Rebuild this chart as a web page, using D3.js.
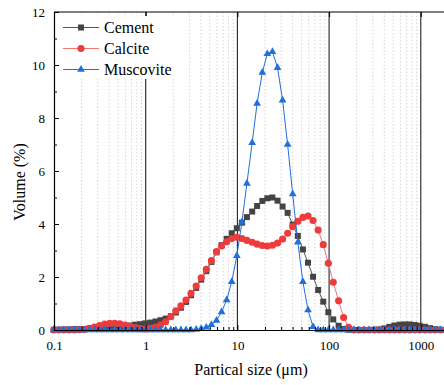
<!DOCTYPE html>
<html>
<head>
<meta charset="utf-8">
<script src="https://cdn.jsdelivr.net/npm/d3@7"></script>
<style>
  html, body { margin: 0; padding: 0; background: #fff; }
  svg { display: block; }
</style>
</head>
<body>
<svg id="chart" width="444" height="385"></svg>
<script>
// Particle size distribution: cement, calcite, muscovite (laser diffraction size classes).

const SIZES = [0.0995, 0.113, 0.128, 0.146, 0.166, 0.188, 0.214, 0.243, 0.276, 0.314,
  0.357, 0.405, 0.46, 0.523, 0.594, 0.675, 0.767, 0.872, 0.991, 1.13,
  1.28, 1.45, 1.65, 1.88, 2.13, 2.42, 2.75, 3.12, 3.55, 4.03,
  4.58, 5.21, 5.92, 6.72, 7.64, 8.68, 9.86, 11.2, 12.7, 14.5,
  16.4, 18.7, 21.2, 24.1, 27.4, 31.1, 35.3, 40.1, 45.6, 51.8,
  58.9, 66.9, 76.0, 86.4, 98.1, 111, 127, 144, 163, 186,
  211, 240, 272, 310, 352, 400, 454, 516, 586, 666,
  756, 859, 976, 1110, 1260, 1430, 1630, 1850];

const CEMENT = [0.01, 0.01, 0.02, 0.02, 0.03, 0.03, 0.04, 0.05, 0.06, 0.07,
  0.08, 0.1, 0.11, 0.12, 0.15, 0.17, 0.2, 0.22, 0.25, 0.28,
  0.32, 0.37, 0.43, 0.52, 0.66, 0.84, 1.06, 1.31, 1.59, 1.9,
  2.22, 2.57, 2.93, 3.2, 3.44, 3.65, 3.84, 4.05, 4.26, 4.47,
  4.68, 4.87, 4.97, 5.0, 4.88, 4.66, 4.42, 3.98, 3.55, 3.04,
  2.54, 2.01, 1.51, 1.07, 0.67, 0.4, 0.16, 0.04, 0.01, 0,
  0, 0, 0, 0.01, 0.02, 0.06, 0.12, 0.17, 0.2, 0.21,
  0.21, 0.19, 0.16, 0.12, 0.07, 0.03, 0.01, 0];

const CALCITE = [0, 0, 0, 0, 0, 0.01, 0.02, 0.06, 0.11, 0.17,
  0.22, 0.25, 0.25, 0.23, 0.19, 0.14, 0.09, 0.05, 0.04, 0.05,
  0.1, 0.19, 0.31, 0.5, 0.72, 0.91, 1.13, 1.38, 1.66, 1.97,
  2.29, 2.62, 2.96, 3.17, 3.33, 3.45, 3.5, 3.45, 3.38, 3.31,
  3.24, 3.19, 3.17, 3.2, 3.28, 3.43, 3.65, 3.9, 4.1, 4.25,
  4.3, 4.13, 3.77, 3.22, 2.52, 1.8, 1.1, 0.47, 0.1, 0,
  0, 0, 0, 0, 0, 0, 0, 0, 0, 0,
  0, 0, 0, 0, 0, 0, 0, 0];

const MUSCOVITE = [0, 0, 0, 0, 0, 0, 0, 0, 0, 0,
  0, 0, 0, 0, 0, 0, 0, 0, 0, 0,
  0, 0, 0, 0, 0, 0, 0, 0, 0.02, 0.05,
  0.1, 0.2, 0.36, 0.68, 1.13, 1.82, 2.8, 4.07, 5.53, 7.07,
  8.55, 9.72, 10.42, 10.5, 9.9, 8.67, 7.0, 5.13, 3.31, 1.82,
  0.75, 0.12, 0, 0, 0, 0, 0, 0, 0, 0,
  0, 0, 0, 0, 0, 0, 0, 0, 0, 0,
  0, 0, 0, 0, 0, 0, 0, 0];

const X_TICKS = [0.1, 1, 10, 100, 1000];
const Y_TICKS = [0, 2, 4, 6, 8, 10, 12];
const Y_MINOR = [1, 3, 5, 7, 9, 11];
const X_DOMAIN = [0.1, 2000];
const Y_DOMAIN = [0, 12];

const SERIES = [
  { name: 'Cement',    values: CEMENT,    line: '#555555', fill: '#444444', shape: d3.symbolSquare,   size: 36 },
  { name: 'Calcite',   values: CALCITE,   line: '#f27878', fill: '#ee3b3b', shape: d3.symbolCircle,   size: 40 },
  { name: 'Muscovite', values: MUSCOVITE, line: '#1f6fdc', fill: '#1f6fdc', shape: d3.symbolTriangle, size: 26 }
];

const FONT = '"Liberation Serif", "Times New Roman", serif';
const INK = '#000';

const svg = d3.select('#chart');
const m = { top: 12, left: 54, bottom: 330, right: 448.4 };

const x = d3.scaleLog().domain(X_DOMAIN).range([m.left, m.right]);
const y = d3.scaleLinear().domain(Y_DOMAIN).range([m.bottom, m.top]);

// minor positions 2..9 in every decade
const minorX = [];
[0.1, 1, 10, 100, 1000].forEach(dec => {
  for (let k = 2; k <= 9; k++) {
    const v = dec * k;
    if (v < X_DOMAIN[1]) minorX.push(v);
  }
});

// dotted grid
svg.append('g').selectAll('line').data(minorX).join('line')
  .attr('x1', d => x(d)).attr('x2', d => x(d))
  .attr('y1', m.top).attr('y2', m.bottom)
  .attr('stroke', '#d6d6d6').attr('stroke-width', 1).attr('stroke-dasharray', '1.5 2');

// solid decade lines
svg.append('g').selectAll('line').data(X_TICKS.slice(1)).join('line')
  .attr('x1', d => x(d)).attr('x2', d => x(d))
  .attr('y1', m.top).attr('y2', m.bottom)
  .attr('stroke', '#222').attr('stroke-width', 1.1);

// series
SERIES.forEach(s => {
  const pts = SIZES.map((d, i) => ({ size: d, value: s.values[i] }));
  const line = d3.line().x(d => x(d.size)).y(d => y(d.value));
  const g = svg.append('g');
  g.append('path').datum(pts)
    .attr('fill', 'none').attr('stroke', s.line).attr('stroke-width', 1).attr('d', line);
  g.selectAll('path.pt').data(pts).join('path').attr('class', 'pt')
    .attr('transform', d => `translate(${x(d.size)},${y(d.value)})`)
    .attr('d', d3.symbol().type(s.shape).size(s.size))
    .attr('fill', s.fill);
});

// top frame
svg.append('line').attr('x1', m.left).attr('x2', m.right).attr('y1', m.top).attr('y2', m.top)
  .attr('stroke', INK).attr('stroke-width', 1.2);

// top axis ticks (inward)
svg.append('g').attr('transform', `translate(0,${m.top})`)
  .call(d3.axisTop(x).tickValues(X_TICKS).tickSize(-5).tickFormat(''))
  .call(g => g.select('.domain').remove())
  .call(g => g.selectAll('line').attr('stroke', INK));

// legend
const lg = svg.append('g');
lg.append('rect').attr('x', 56).attr('y', 16).attr('width', 122).attr('height', 63).attr('fill', '#fff');
SERIES.forEach((s, i) => {
  const cy = 27.5 + i * 21;
  lg.append('line').attr('x1', 63).attr('x2', 99).attr('y1', cy).attr('y2', cy)
    .attr('stroke', s.line).attr('stroke-width', 1.2);
  lg.append('path').attr('transform', `translate(81,${cy})`)
    .attr('d', d3.symbol().type(s.shape).size(s.size)).attr('fill', s.fill);
  lg.append('text').attr('x', 104).attr('y', cy + 5.5)
    .attr('font-family', FONT).attr('font-size', 16).attr('fill', INK)
    .text(s.name);
});

// bottom axis
svg.append('g').attr('transform', `translate(0,${m.bottom})`)
  .call(d3.axisBottom(x).tickValues(X_TICKS).tickSize(-5).tickPadding(11)
    .tickFormat(d => String(d)))
  .call(g => g.select('.domain').attr('stroke', INK).attr('stroke-width', 1.2))
  .call(g => g.selectAll('line').attr('stroke', INK))
  .call(g => g.selectAll('text').attr('fill', INK).attr('font-family', FONT).attr('font-size', 13));
svg.append('g').attr('transform', `translate(0,${m.bottom})`)
  .call(d3.axisBottom(x).tickValues(minorX).tickSize(-3).tickFormat(''))
  .call(g => g.select('.domain').remove())
  .call(g => g.selectAll('line').attr('stroke', INK));

// left axis
svg.append('g').attr('transform', `translate(${m.left},0)`)
  .call(d3.axisLeft(y).tickValues(Y_TICKS).tickSize(-5).tickPadding(9))
  .call(g => g.select('.domain').attr('stroke', INK).attr('stroke-width', 1.2))
  .call(g => g.selectAll('line').attr('stroke', INK))
  .call(g => g.selectAll('text').attr('fill', INK).attr('font-family', FONT).attr('font-size', 13));
svg.append('g').attr('transform', `translate(${m.left},0)`)
  .call(d3.axisLeft(y).tickValues(Y_MINOR).tickSize(-3).tickFormat(''))
  .call(g => g.select('.domain').remove())
  .call(g => g.selectAll('line').attr('stroke', INK));

// titles
svg.append('text').attr('x', 251).attr('y', 375).attr('text-anchor', 'middle')
  .attr('font-family', FONT).attr('font-size', 16).attr('fill', INK)
  .text('Partical size (μm)');
svg.append('text').attr('transform', 'translate(25,182) rotate(-90)').attr('text-anchor', 'middle')
  .attr('font-family', FONT).attr('font-size', 16).attr('fill', INK)
  .text('Volume (%)');
</script>
</body>
</html>
